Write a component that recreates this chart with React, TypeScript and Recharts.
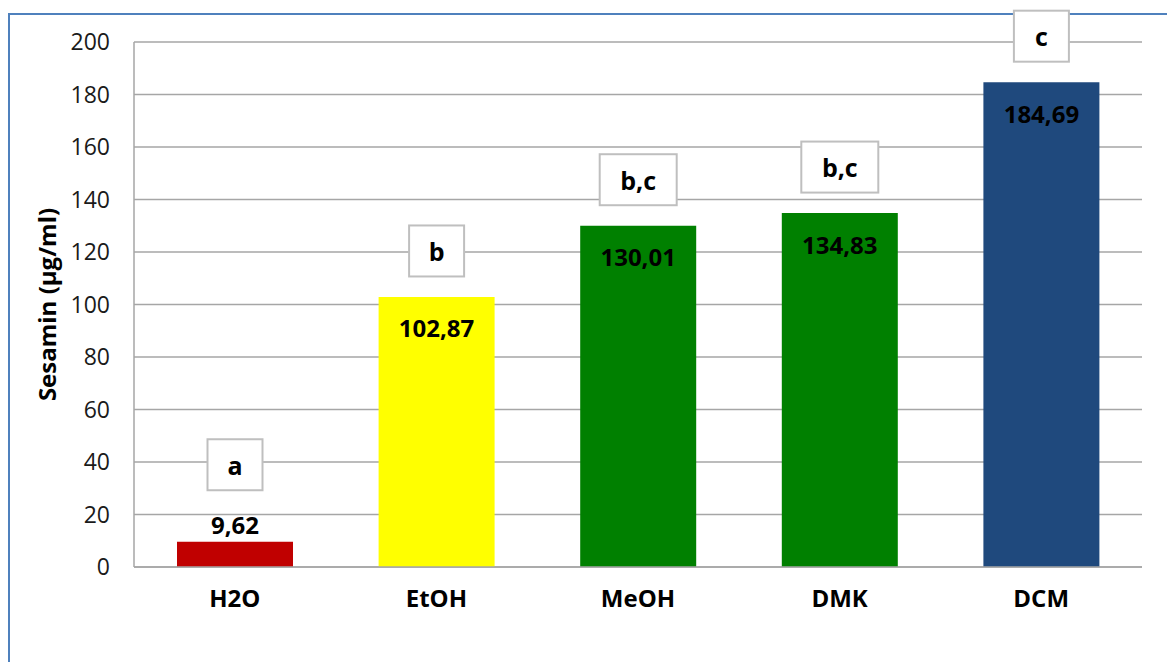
import { BarChart, Bar, XAxis, YAxis, CartesianGrid, Cell, LabelList } from "recharts";

/* ── Data ─────────────────────────────────────────────────────────────── */
const solvents = ["H2O", "EtOH", "MeOH", "DMK", "DCM"];
const sesamin = [9.62, 102.87, 130.01, 134.83, 184.69];
const groups = ["a", "b", "b,c", "b,c", "c"];
const barColors = ["#c00000", "#ffff00", "#008000", "#008000", "#1f497d"];
const yTicks = [0, 20, 40, 60, 80, 100, 120, 140, 160, 180, 200];

const data = solvents.map((s, i) => ({ name: s, value: sesamin[i], group: groups[i] }));

const font = "'Open Sans', Lato, sans-serif";
const fmt = (v: number) => v.toFixed(2).replace(".", ",");

function ValueLabel({ x, y, width, height, value }: any) {
  const outside = height < 40;
  return (
    <text
      x={x + width / 2}
      y={outside ? y - 17 : y + 31}
      textAnchor="middle"
      dominantBaseline="central"
      fontFamily={font}
      fontWeight={700}
      fontSize={24}
      fill="#000"
    >
      {fmt(value)}
    </text>
  );
}

function GroupLabel({ x, y, width, height, value }: any) {
  const txt = String(value);
  const w = 44 + 11 * txt.length;
  const h = 51;
  const cy = height < 40 ? y - 77 : y - 46;
  const cx = x + width / 2;
  return (
    <g>
      <rect x={cx - w / 2} y={cy - h / 2} width={w} height={h} fill="#fff" stroke="#bfbfbf" strokeWidth={2} />
      <text
        x={cx}
        y={cy}
        textAnchor="middle"
        dominantBaseline="central"
        fontFamily={font}
        fontWeight={700}
        fontSize={25}
        fill="#000"
      >
        {txt}
      </text>
    </g>
  );
}

function AxisTitle({ viewBox }: any) {
  const cx = 46;
  const cy = viewBox.y + viewBox.height / 2;
  return (
    <text
      x={cx}
      y={cy}
      transform={`rotate(-90 ${cx} ${cy})`}
      textAnchor="middle"
      dominantBaseline="central"
      fontFamily={font}
      fontWeight={700}
      fontSize={24}
      fill="#000"
    >
      Sesamin (µg/ml)
    </text>
  );
}

export default function App() {
  return (
    <div style={{ position: "absolute", left: 0, top: 0, width: 1167, height: 662, background: "#fff", overflow: "hidden" }}>
      <div
        style={{
          position: "absolute", left: 8, top: 13, width: 1200, height: 700,
          borderLeft: "2px solid #4f81bd", borderTop: "2px solid #4f81bd",
        }}
      />
      <div style={{ position: "absolute", left: 0, top: 0 }}>
        <BarChart
          width={1167}
          height={662}
          data={data}
          margin={{ top: 42, right: 25, bottom: 35, left: 0 }}
          barSize={116}
        >
          <CartesianGrid vertical={false} stroke="#a6a6a6" strokeWidth={1.5} />
          <XAxis
            dataKey="name"
            height={60}
            tickSize={0}
            tickMargin={23}
            axisLine={{ stroke: "#a6a6a6", strokeWidth: 1.5 }}
            tick={{ fontFamily: font, fontWeight: 700, fontSize: 24, fill: "#000" }}
          />
          <YAxis
            width={134}
            domain={[0, 200]}
            ticks={yTicks}
            interval={0}
            tickSize={0}
            tickMargin={24}
            axisLine={{ stroke: "#a6a6a6", strokeWidth: 1.5 }}
            tick={{ fontFamily: font, fontSize: 23, fill: "#1a1a1a" }}
            label={<AxisTitle />}
          />
          <Bar dataKey="value" isAnimationActive={false}>
            {data.map((d, i) => (
              <Cell key={d.name} fill={barColors[i]} />
            ))}
            <LabelList dataKey="value" content={<ValueLabel />} />
            <LabelList dataKey="group" content={<GroupLabel />} />
          </Bar>
        </BarChart>
      </div>
    </div>
  );
}
